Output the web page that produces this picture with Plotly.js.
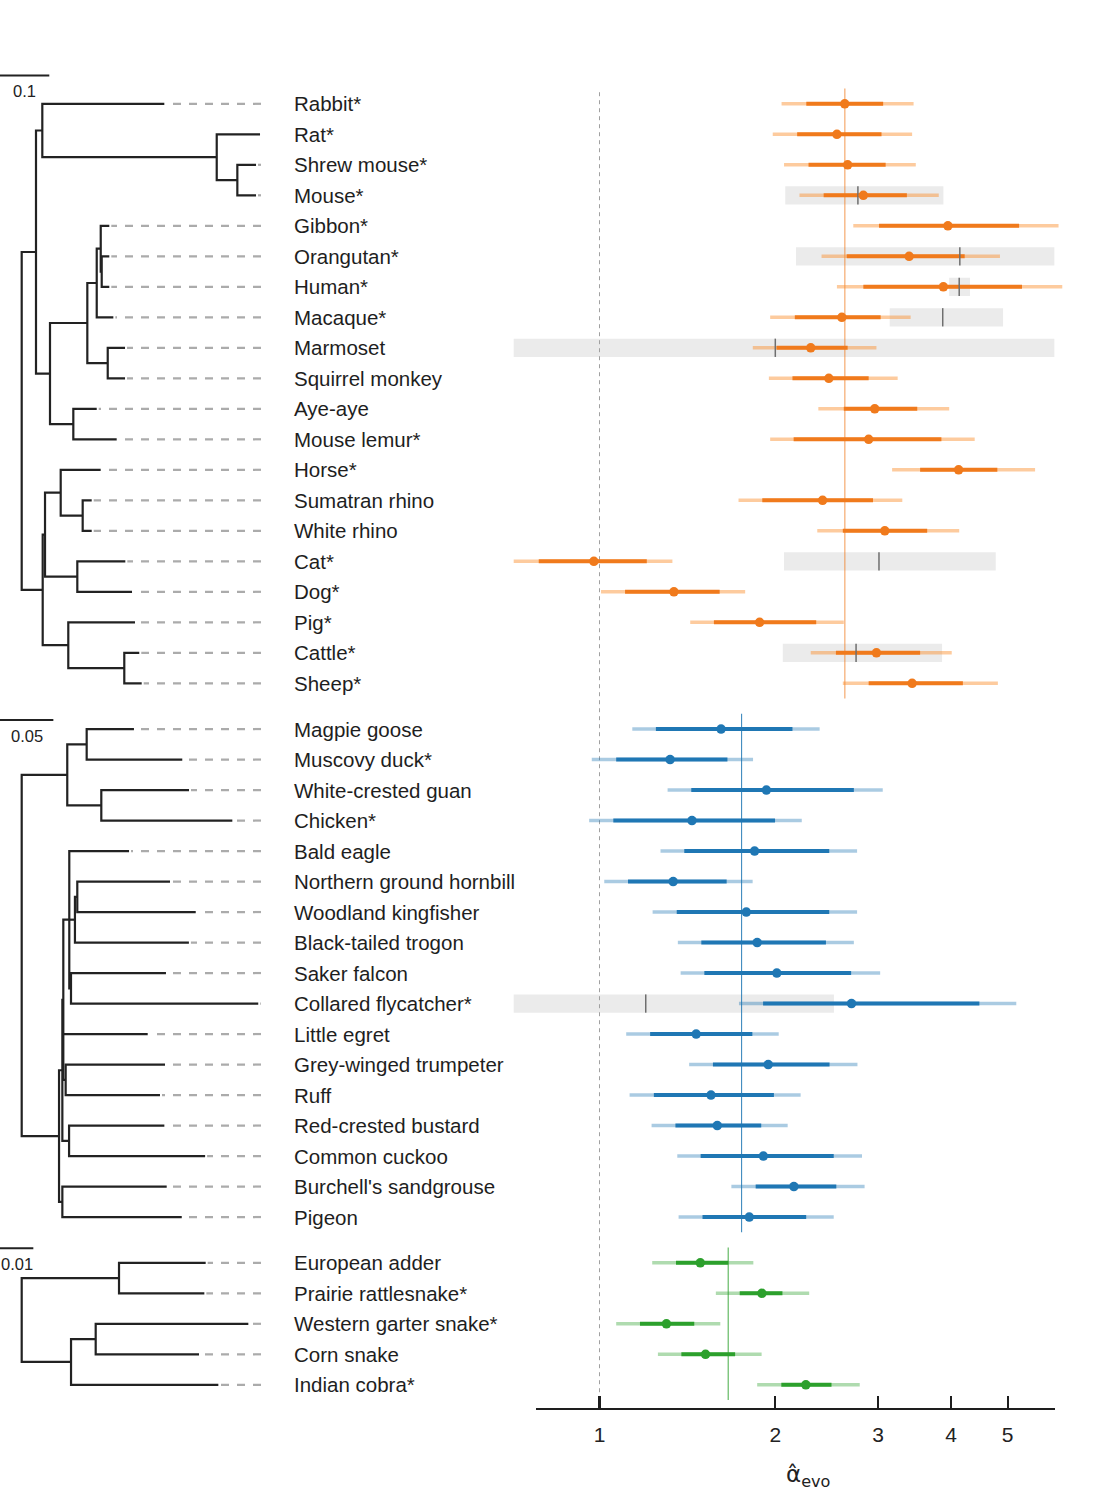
<!DOCTYPE html>
<html><head><meta charset="utf-8">
<script src="https://cdn.plot.ly/plotly-3.0.1.min.js"></script>
<style>html,body{margin:0;padding:0;background:#fff}#chart{width:1110px;height:1500px}</style>
</head><body><div id="chart"></div>
<script>
// ---------------- DATA ----------------
const mammalNames = ["Rabbit*","Rat*","Shrew mouse*","Mouse*","Gibbon*","Orangutan*","Human*","Macaque*","Marmoset","Squirrel monkey","Aye-aye","Mouse lemur*","Horse*","Sumatran rhino","White rhino","Cat*","Dog*","Pig*","Cattle*","Sheep*"];
const mammalLo95 = [2.05,1.98,2.07,2.20,2.72,2.40,2.55,1.96,1.83,1.95,2.37,1.96,3.17,1.73,2.36,0.713,1.006,1.43,2.30,2.61];
const mammalLo50 = [2.26,2.18,2.28,2.42,3.01,2.65,2.83,2.16,2.01,2.14,2.62,2.15,3.54,1.90,2.61,0.787,1.106,1.57,2.54,2.89];
const mammalEst  = [2.63,2.55,2.66,2.83,3.95,3.39,3.88,2.60,2.30,2.47,2.96,2.89,4.12,2.41,3.08,0.978,1.341,1.88,2.98,3.43];
const mammalHi50 = [3.06,3.04,3.09,3.36,5.23,4.22,5.29,3.03,2.66,2.89,3.50,3.85,4.80,2.94,3.64,1.205,1.606,2.35,3.54,4.19];
const mammalHi95 = [3.45,3.43,3.48,3.81,6.11,4.85,6.20,3.41,2.98,3.24,3.97,4.39,5.57,3.30,4.13,1.333,1.776,2.62,4.01,4.81];
const mammalBoxLo  = [null,null,null,2.08,null,2.17,3.97,3.14,0.713,null,null,null,null,null,null,2.07,null,null,2.06,null];
const mammalBoxMid = [null,null,null,2.77,null,4.14,4.13,3.87,2.00,null,null,null,null,null,null,3.01,null,null,2.75,null];
const mammalBoxHi  = [null,null,null,3.88,null,6.01,4.31,4.91,6.01,null,null,null,null,null,null,4.77,null,null,3.86,null];
const mammalMean = 2.631;
const mammalTree = "(((Rabbit*:0.2475,(Rat*:0.0878,(Shrew mouse*:0.0379,Mouse*:0.0379):0.0418):0.3538):0.0128,((((Gibbon*:0.0174,(Orangutan*:0.0154,Human*:0.0154):0.002):0.0081,Macaque*:0.0337):0.0191,(Marmoset:0.0351,Squirrel monkey:0.0351):0.0414):0.0757,(Aye-aye:0.0475,Mouse lemur*:0.088):0.0473):0.0284):0.029,(((Horse*:0.0811,(Sumatran rhino:0.0183,White rhino:0.0183):0.0446):0.0318,(Cat*:0.0974,Dog*:0.111):0.0655):0.0047,(Pig*:0.1353,(Cattle*:0.0304,Sheep*:0.0353):0.1136):0.0519):0.0426);";

const birdNames = ["Magpie goose","Muscovy duck*","White-crested guan","Chicken*","Bald eagle","Northern ground hornbill","Woodland kingfisher","Black-tailed trogon","Saker falcon","Collared flycatcher*","Little egret","Grey-winged trumpeter","Ruff","Red-crested bustard","Common cuckoo","Burchell's sandgrouse","Pigeon"];
const birdLo95 = [1.138,0.970,1.308,0.960,1.272,1.019,1.233,1.362,1.377,1.733,1.111,1.424,1.126,1.228,1.359,1.682,1.366];
const birdLo50 = [1.249,1.068,1.436,1.056,1.397,1.119,1.356,1.494,1.512,1.906,1.221,1.564,1.239,1.349,1.490,1.851,1.501];
const birdEst  = [1.615,1.321,1.931,1.440,1.843,1.337,1.784,1.862,2.012,2.701,1.464,1.945,1.552,1.591,1.908,2.152,1.805];
const birdHi50 = [2.140,1.656,2.726,1.998,2.474,1.651,2.474,2.442,2.697,4.472,1.827,2.477,1.989,1.892,2.518,2.544,2.259];
const birdHi95 = [2.382,1.832,3.055,2.220,2.761,1.829,2.761,2.726,3.024,5.172,2.027,2.765,2.210,2.100,2.815,2.844,2.518];
const birdBoxLo  = [null,null,null,null,null,null,null,null,null,0.713,null,null,null,null,null,null,null];
const birdBoxMid = [null,null,null,null,null,null,null,null,null,1.20,null,null,null,null,null,null,null];
const birdBoxHi  = [null,null,null,null,null,null,null,null,null,2.52,null,null,null,null,null,null,null];
const birdMean = 1.751;
const birdTree = "(((Magpie goose:0.0443,Muscovy duck*:0.0896):0.0182,(White-crested guan:0.0822,Chicken*:0.1228):0.0319):0.0427,((((Bald eagle:0.056,((Northern ground hornbill:0.0869,Woodland kingfisher:0.111):0.0022,Black-tailed trogon:0.1068):0.0053,(Saker falcon:0.089,Collared flycatcher*:0.1755):0.0016):0.0056,Little egret:0.0791,(Grey-winged trumpeter:0.0931,Ruff:0.0884):0.0022):0.0009,(Red-crested bustard:0.0893,Common cuckoo:0.1275):0.0063):0.0031,(Burchell's sandgrouse:0.0978,Pigeon:0.1119):0.0031):0.035);";

const reptileNames = ["European adder","Prairie rattlesnake*","Western garter snake*","Corn snake","Indian cobra*"];
const reptileLo95 = [1.231,1.582,1.068,1.259,1.862];
const reptileLo50 = [1.352,1.738,1.173,1.381,2.048];
const reptileEst  = [1.488,1.897,1.302,1.519,2.256];
const reptileHi50 = [1.661,2.057,1.453,1.707,2.496];
const reptileHi95 = [1.834,2.286,1.610,1.895,2.790];
const reptileMean = 1.661;
const reptileTree = "((European adder:0.026,Prairie rattlesnake*:0.0256):0.0292,((Western garter snake*:0.0458,Corn snake:0.031):0.0074,Indian cobra*:0.0442):0.0148);";

const scaleBars = [0.1, 0.05, 0.01];
const tickValues = [1,2,3,4,5];
const tickLabels = ["1","2","3","4","5"];
const axisTitle = "α̂<sub>evo</sub>";

// ---------------- LAYOUT CONSTANTS ----------------
const W = 1110, H = 1500;
const ROW0 = 103.8, ROWH = 30.5;          // pixel of row 0, row height
const AXIS_PX = 1408;                      // bottom axis line
const FONT = "Liberation Sans, Arial, Helvetica, sans-serif";
const TREE_W = 280, ROOT_PX = 21.7, DASH_END_PX = 261;

function parseNewick(str){
  const s = str.replace(/;\s*$/,'');
  let i = 0;
  function node(){
    const n = {children:[], name:'', len:0};
    if (s[i] === '('){
      i++;
      while (true){
        n.children.push(node());
        if (s[i] === ','){ i++; continue; }
        if (s[i] === ')'){ i++; break; }
        break;
      }
    }
    let name = '';
    while (i < s.length && '(),:'.indexOf(s[i]) < 0){ name += s[i]; i++; }
    n.name = name.trim();
    if (s[i] === ':'){
      i++; let num = '';
      while (i < s.length && '(),'.indexOf(s[i]) < 0){ num += s[i]; i++; }
      n.len = parseFloat(num);
    }
    return n;
  }
  return node();
}

function buildTree(newick, names, rowStart, ppu){
  const root = parseNewick(newick);
  const rowOf = {};
  names.forEach((n,k)=>{ rowOf[n] = rowStart + k; });
  const dashEnd = DASH_END_PX/ppu;
  const lx=[], ly=[], dx=[], dy=[];
  function place(n, x){
    n.x = x;
    if (!n.children.length){ n.y = rowOf[n.name]; }
    else {
      n.children.forEach(c=>place(c, x + c.len));
      n.y = (n.children[0].y + n.children[n.children.length-1].y)/2;
    }
  }
  place(root, ROOT_PX/ppu);
  function draw(n){
    if (n.children.length){
      const f = n.children[0], l = n.children[n.children.length-1];
      lx.push(f.x, n.x, n.x, l.x, null); ly.push(f.y, f.y, l.y, l.y, null);
      n.children.slice(1,-1).forEach(c=>{ lx.push(n.x, c.x, null); ly.push(c.y, c.y, null); });
      n.children.forEach(draw);
    } else if (n.x < dashEnd - 2/ppu){
      dx.push(dashEnd, n.x + 2/ppu, null); dy.push(n.y, n.y, null);
    }
  }
  draw(root);
  return {lx, ly, dx, dy};
}

const rowsFrom = (start, n) => Array.from({length:n}, (_,k)=>start+k);
const groups = [
  {names:mammalNames, lo95:mammalLo95, lo50:mammalLo50, est:mammalEst, hi50:mammalHi50, hi95:mammalHi95,
   bLo:mammalBoxLo, bMid:mammalBoxMid, bHi:mammalBoxHi, mean:mammalMean, tree:mammalTree, scale:scaleBars[0],
   rowStart:0, ppu:493, xa:'x', dark:'#f07a1c', light:'rgba(250,140,40,0.45)', meanCol:'rgba(240,122,28,0.7)',
   barPx:75.5, labPx:91},
  {names:birdNames, lo95:birdLo95, lo50:birdLo50, est:birdEst, hi50:birdHi50, hi95:birdHi95,
   bLo:birdBoxLo, bMid:birdBoxMid, bHi:birdBoxHi, mean:birdMean, tree:birdTree, scale:scaleBars[1],
   rowStart:20.5, ppu:1067, xa:'x3', dark:'#1f77b4', light:'rgba(31,119,180,0.38)', meanCol:'rgba(31,119,180,0.85)',
   barPx:720, labPx:736},
  {names:reptileNames, lo95:reptileLo95, lo50:reptileLo50, est:reptileEst, hi50:reptileHi50, hi95:reptileHi95,
   bLo:null, bMid:null, bHi:null, mean:reptileMean, tree:reptileTree, scale:scaleBars[2],
   rowStart:38, ppu:3333, xa:'x4', dark:'#2ca02c', light:'rgba(44,160,44,0.38)', meanCol:'rgba(44,160,44,0.8)',
   barPx:1248.3, labPx:1264}
];
const pxToRow = p => (p - ROW0)/ROWH;

const traces = [];
const annotations = [];
const boxTraces = [], refTraces = [], ciTraces = [], tickTraces = [], dotTraces = [];

// grey boxes
groups.forEach(g=>{
  if (!g.bLo) return;
  const x=[], y=[], tx=[], ty=[];
  g.names.forEach((n,k)=>{
    if (g.bLo[k] == null) return;
    const r = g.rowStart + k;
    x.push(g.bLo[k], g.bHi[k], g.bHi[k], g.bLo[k], g.bLo[k], null);
    y.push(r-0.3, r-0.3, r+0.3, r+0.3, r-0.3, null);
    tx.push(g.bMid[k], g.bMid[k], null); ty.push(r-0.3, r+0.3, null);
  });
  boxTraces.push({x, y, xaxis:'x2', yaxis:'y', mode:'lines', fill:'toself', fillcolor:'#ebebeb',
    line:{width:0, color:'#ebebeb'}, hoverinfo:'skip', showlegend:false});
  tickTraces.push({x:tx, y:ty, xaxis:'x2', yaxis:'y', mode:'lines', line:{width:1.5, color:'#6e6e6e'},
    hoverinfo:'skip', showlegend:false});
});

// reference line at 1
refTraces.push({x:[1,1], y:[-0.38, 42.45], xaxis:'x2', yaxis:'y', mode:'lines',
  line:{width:1, color:'#a0a0a0', dash:'4px,4px'}, hoverinfo:'skip', showlegend:false});

groups.forEach(g=>{
  const rows = rowsFrom(g.rowStart, g.names.length);
  refTraces.push({x:[g.mean, g.mean], y:[rows[0]-0.5, rows[rows.length-1]+0.5], xaxis:'x2', yaxis:'y', mode:'lines',
    line:{width:1.1, color:g.meanCol}, hoverinfo:'skip', showlegend:false});
  const ox=[], oy=[], ix=[], iy=[];
  rows.forEach((r,k)=>{
    ox.push(g.lo95[k], g.hi95[k], null); oy.push(r, r, null);
    ix.push(g.lo50[k], g.hi50[k], null); iy.push(r, r, null);
  });
  ciTraces.push({x:ox, y:oy, xaxis:'x2', yaxis:'y', mode:'lines', line:{width:3.6, color:g.light},
    hoverinfo:'skip', showlegend:false});
  ciTraces.push({x:ix, y:iy, xaxis:'x2', yaxis:'y', mode:'lines', line:{width:4, color:g.dark},
    hoverinfo:'skip', showlegend:false});
  dotTraces.push({x:g.est, y:rows, xaxis:'x2', yaxis:'y', mode:'markers',
    marker:{size:9.5, color:g.dark, line:{width:0}}, hoverinfo:'skip', showlegend:false});

  const t = buildTree(g.tree, g.names, g.rowStart, g.ppu);
  traces.push({x:t.dx, y:t.dy, xaxis:g.xa, yaxis:'y', mode:'lines',
    line:{width:2.2, color:'#ababab', dash:'8px,8px'}, hoverinfo:'skip', showlegend:false});
  traces.push({x:t.lx, y:t.ly, xaxis:g.xa, yaxis:'y', mode:'lines',
    line:{width:2.2, color:'#222222'}, hoverinfo:'skip', showlegend:false});
  traces.push({x:[0, g.scale], y:[pxToRow(g.barPx), pxToRow(g.barPx)], xaxis:g.xa, yaxis:'y', mode:'lines',
    line:{width:2, color:'#222222'}, hoverinfo:'skip', showlegend:false});
  annotations.push({xref:'paper', yref:'y', x:(g.scale/2*g.ppu)/W, y:pxToRow(g.labPx), text:String(g.scale),
    showarrow:false, xanchor:'center', yanchor:'middle', font:{family:FONT, size:16.5, color:'#222'}});
  g.names.forEach((n,k)=>{
    annotations.push({xref:'paper', yref:'y', x:292/W, y:g.rowStart+k, text:n, showarrow:false,
      xanchor:'left', yanchor:'middle', font:{family:FONT, size:20.5, color:'#1e1e1e'}});
  });
});

const axisDummy = {x:tickValues, y:tickValues.map(()=>null), xaxis:'x5', yaxis:'y', mode:'markers',
  marker:{opacity:0}, hoverinfo:'skip', showlegend:false};

annotations.push({xref:'paper', yref:'paper', x:808/W, y:1-1476/H, text:axisTitle, showarrow:false,
  xanchor:'center', yanchor:'middle', font:{family:"DejaVu Sans, sans-serif", size:23, color:'#222'}});

const data = [].concat(boxTraces, refTraces, ciTraces, tickTraces, dotTraces, traces, [axisDummy]);

const decade = 584, onePx = 599.5;
const logAt = p => (p - onePx)/decade;
const hidden = {visible:false, showgrid:false, zeroline:false, fixedrange:true};
const layout = {
  width:W, height:H, margin:{l:0,r:0,t:0,b:0,pad:0},
  paper_bgcolor:'#ffffff', plot_bgcolor:'rgba(0,0,0,0)', showlegend:false,
  yaxis:Object.assign({}, hidden, {domain:[1-AXIS_PX/H, 1], range:[pxToRow(AXIS_PX), pxToRow(0)]}),
  xaxis:Object.assign({}, hidden, {domain:[0, TREE_W/W], range:[0, TREE_W/493], anchor:'y'}),
  xaxis3:Object.assign({}, hidden, {overlaying:'x', range:[0, TREE_W/1067], anchor:'y'}),
  xaxis4:Object.assign({}, hidden, {overlaying:'x', range:[0, TREE_W/3333], anchor:'y'}),
  xaxis2:Object.assign({}, hidden, {type:'log', domain:[500/W, 1070/W], range:[logAt(500), logAt(1070)], anchor:'y'}),
  xaxis5:{type:'log', domain:[536/W, 1055/W], range:[logAt(536), logAt(1055)], anchor:'y', side:'bottom',
    showline:true, linecolor:'#1e1e1e', linewidth:2.2, ticks:'inside', ticklen:12, tickwidth:2.2, tickcolor:'#1e1e1e',
    tickmode:'array', tickvals:tickValues, ticktext:tickLabels, ticklabelstandoff:7,
    tickfont:{family:FONT, size:21, color:'#222'}, showgrid:false, zeroline:false, fixedrange:true},
  annotations
};
Plotly.newPlot('chart', data, layout, {staticPlot:true, displayModeBar:false});
</script>
</body></html>
